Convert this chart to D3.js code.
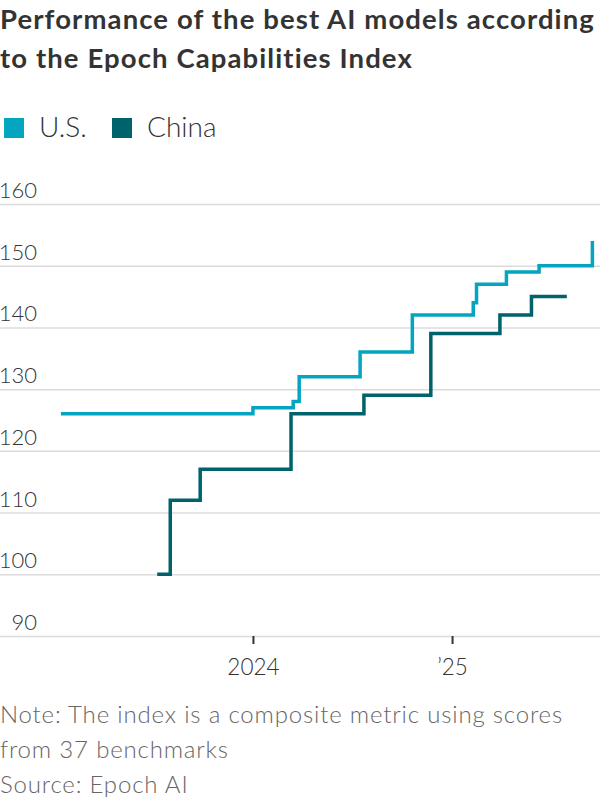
<!DOCTYPE html>
<html>
<head>
<meta charset="utf-8">
<script src="https://cdn.jsdelivr.net/npm/d3@7"></script>
<style>
  body { margin: 0; background: #fff; }
  svg { display: block; font-family: Lato, "Noto Sans", sans-serif; }
</style>
</head>
<body>
<svg id="chart" width="600" height="800"></svg>
<script>
// series data
var usDates   = ["2023-01-13", "2024-01-01", "2024-03-15", "2024-03-26", "2024-07-16",
                 "2024-10-20", "2025-02-09", "2025-02-15", "2025-04-11", "2025-06-10", "2025-09-16"];
var usValues  = [126, 127, 128, 132, 136, 142, 144, 147, 149, 150, 154];

var cnDates   = ["2023-07-09", "2023-08-02", "2023-09-26", "2024-03-11", "2024-07-23",
                 "2024-11-23", "2025-03-30", "2025-05-27", "2025-07-31"];
var cnValues  = [100, 112, 117, 126, 129, 139, 142, 145, 145];

var yTicks = [90, 100, 110, 120, 130, 140, 150, 160];
var xTicks = ["2024-01-01", "2025-01-01"];
var xTickLabels = ["2024", "\u201925"];

var titleLines = ["Performance of the best AI models according", "to the Epoch Capabilities Index"];
var noteLines = ["Note: The index is a composite metric using scores", "from 37 benchmarks", "Source: Epoch AI"];

var usColor = "#04a5c0";
var cnColor = "#00626b";

var parse = d3.isoParse;
var width = 600;

var svg = d3.select("#chart");

// spread a text block so its first line is as wide as in the reference
function fitWidth(sel, target) {
  var first = sel.node();
  var len = first.getComputedTextLength();
  var n = first.textContent.length;
  var ls = Math.max(0, (target - len) / n);
  sel.attr("letter-spacing", ls.toFixed(2));
}

// title
var title = svg.append("g").selectAll("text")
  .data(titleLines)
  .enter().append("text")
    .attr("x", 0)
    .attr("y", (d, i) => 29 + i * 39)
    .attr("font-size", 27.5)
    .attr("font-weight", 700)
    .attr("fill", "#333")
    .text(d => d);
fitWidth(title, 595);

// legend
var legend = svg.append("g").attr("transform", "translate(0,118)");
var legendItems = [["U.S.", usColor, 4], ["China", cnColor, 112]];
legendItems.forEach(function(item) {
  legend.append("rect")
    .attr("x", item[2]).attr("y", 0)
    .attr("width", 20).attr("height", 20)
    .attr("fill", item[1]);
  legend.append("text")
    .attr("x", item[2] + 35).attr("y", 19)
    .attr("font-size", 28)
    .attr("font-weight", 300)
    .attr("fill", "#333")
    .text(item[0]);
});

var x = d3.scaleTime()
  .domain([parse("2022-09-23"), parse("2025-09-30")])
  .range([0, width]);

var y = d3.scaleLinear()
  .domain([90, 160])
  .range([636, 204]);

// gridlines + y labels
var yAxis = svg.append("g")
  .call(d3.axisRight(y).tickValues(yTicks).tickSize(width));
yAxis.select(".domain").remove();
yAxis.selectAll(".tick line")
  .attr("stroke", "#dcdcdc")
  .attr("stroke-width", 1.5);
yAxis.selectAll(".tick text")
  .attr("x", 37)
  .attr("dy", -6.5)
  .attr("text-anchor", "end")
  .attr("font-size", 22)
  .attr("font-family", "Lato")
  .attr("font-weight", 300)
  .attr("fill", "#333");

// x axis
var xAxis = svg.append("g")
  .attr("transform", "translate(0,636)")
  .call(d3.axisBottom(x)
    .tickValues(xTicks.map(parse))
    .tickFormat((d, i) => xTickLabels[i])
    .tickSize(8));
xAxis.select(".domain").remove();
xAxis.selectAll(".tick line")
  .attr("stroke", "#333")
  .attr("stroke-width", 2);
xAxis.selectAll(".tick text")
  .attr("y", 39)
  .attr("dy", 0)
  .attr("font-size", 22.5)
  .attr("font-family", "Lato")
  .attr("font-weight", 300)
  .attr("fill", "#333");

// step lines
var line = d3.line()
  .x(d => x(parse(d[0])))
  .y(d => y(d[1]))
  .curve(d3.curveStepAfter);

var series = [
  [d3.zip(usDates, usValues), usColor],
  [d3.zip(cnDates, cnValues), cnColor]
];
series.forEach(function(s) {
  svg.append("path")
    .datum(s[0])
    .attr("d", line)
    .attr("fill", "none")
    .attr("stroke", s[1])
    .attr("stroke-width", 3.5)
    .attr("stroke-linejoin", "miter");
});

// notes
var notes = svg.append("g").selectAll("text")
  .data(noteLines)
  .enter().append("text")
    .attr("x", 0)
    .attr("y", (d, i) => 723 + i * 35)
    .attr("font-size", 24)
    .attr("font-weight", 300)
    .attr("fill", "#666")
    .text(d => d);
fitWidth(notes, 563);
</script>
</body>
</html>
